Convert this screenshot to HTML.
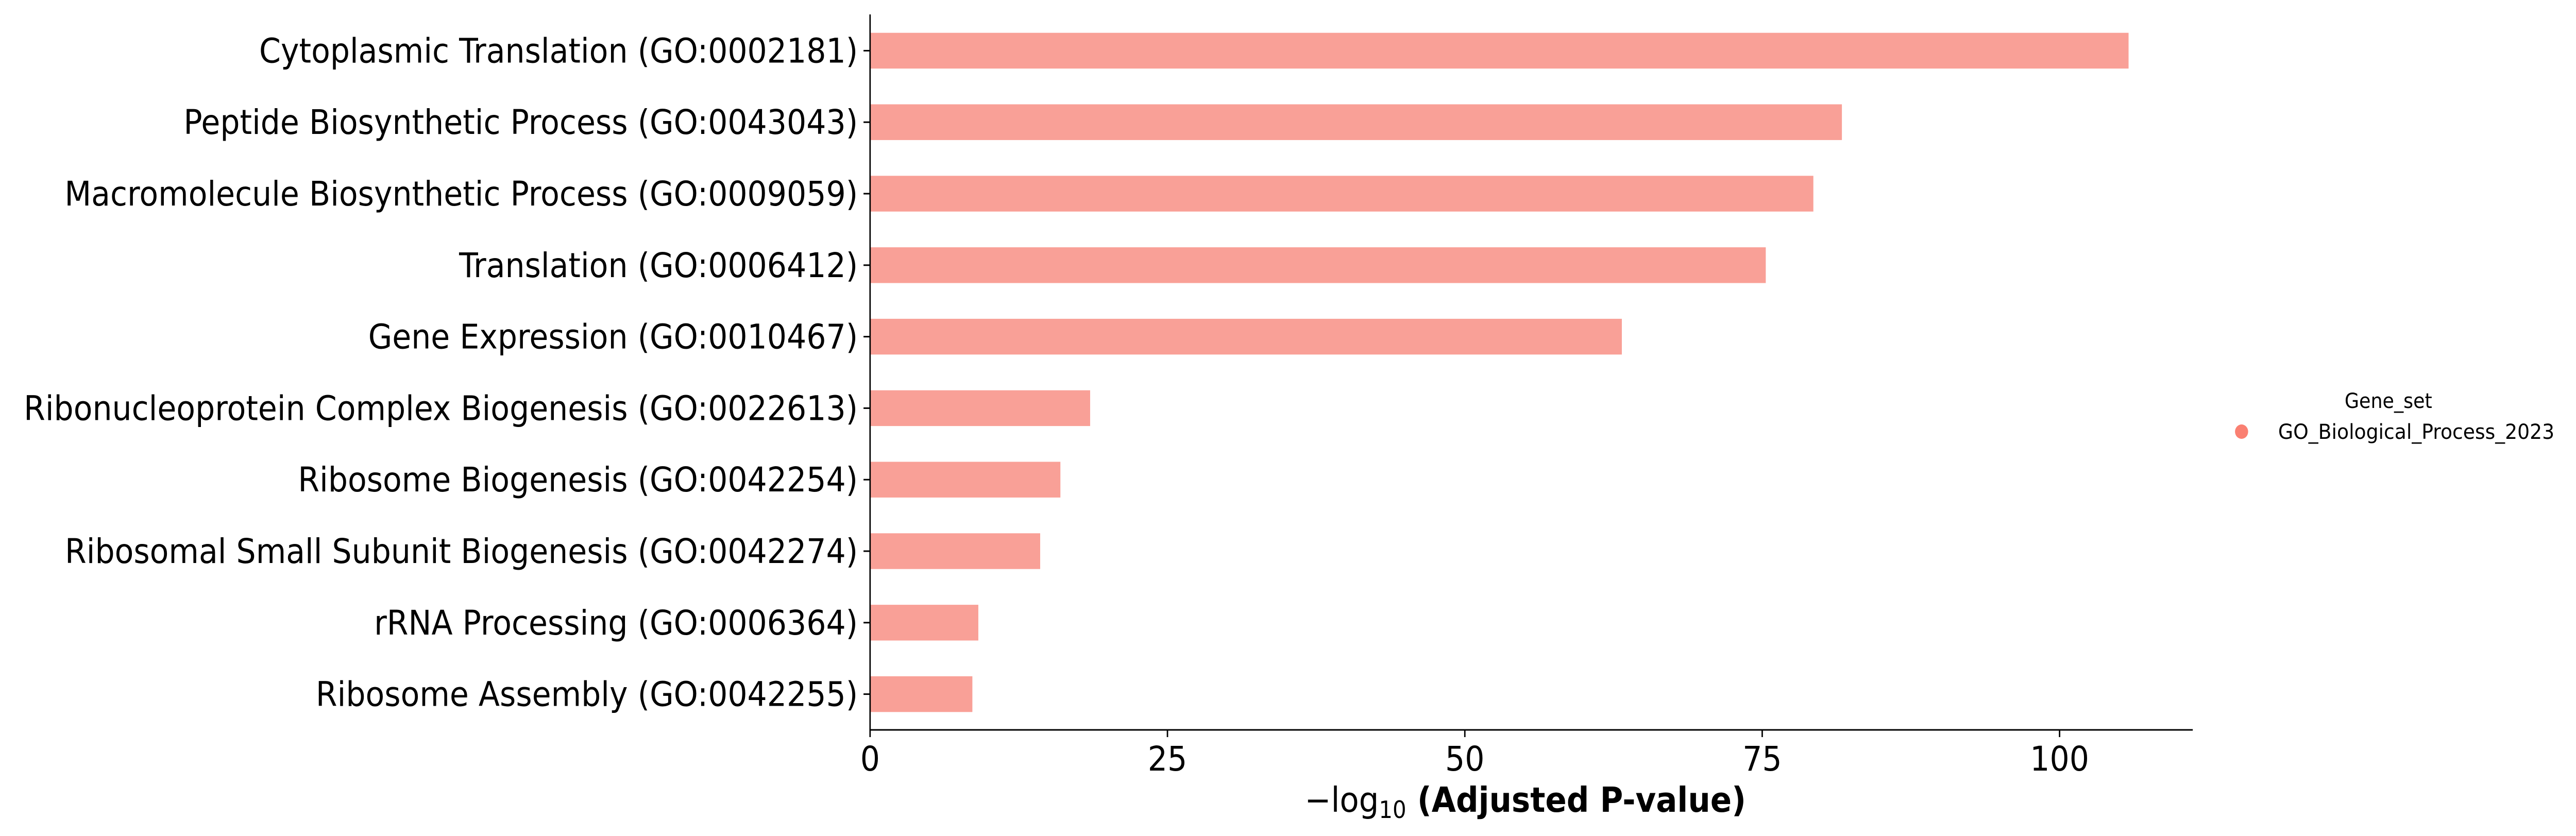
<!DOCTYPE html>
<html><head><meta charset="utf-8"><style>
html,body{margin:0;padding:0;background:#fff;width:100%;height:100%;overflow:hidden;}
svg{display:block;position:absolute;left:0;top:0;width:100vw;height:100vh;font-family:"DejaVu Sans","Liberation Sans",sans-serif;}
</style></head><body>
<svg id="chart" viewBox="0 0 5492 1623" preserveAspectRatio="none" xmlns="http://www.w3.org/2000/svg">
<g id="bars"></g>
<g id="yaxis"></g>
<g id="xaxis"></g>
<text x="3252" y="1576" text-anchor="middle" font-size="67"><tspan>−log</tspan><tspan font-size="46" dy="12">10</tspan><tspan dy="-12" font-weight="bold"> (Adjusted P-value)</tspan></text>
<g>
<text x="5092" y="792" text-anchor="middle" font-size="40">Gene_set</text>
<circle cx="4779" cy="838" r="14" fill="#fa8072"/>
<text x="4857" y="852" font-size="40" textLength="589" lengthAdjust="spacingAndGlyphs">GO_Biological_Process_2023</text>
</g>
</svg>
<script>
const categories = ["Cytoplasmic Translation (GO:0002181)","Peptide Biosynthetic Process (GO:0043043)","Macromolecule Biosynthetic Process (GO:0009059)","Translation (GO:0006412)","Gene Expression (GO:0010467)","Ribonucleoprotein Complex Biogenesis (GO:0022613)","Ribosome Biogenesis (GO:0042254)","Ribosomal Small Subunit Biogenesis (GO:0042274)","rRNA Processing (GO:0006364)","Ribosome Assembly (GO:0042255)"];
const values = [105.8, 81.7, 79.3, 75.3, 63.2, 18.5, 16.0, 14.3, 9.1, 8.6];
const xTicks = [0, 25, 50, 75, 100];
const xMin = 0;

const NS = "http://www.w3.org/2000/svg";
const X0 = 1855, X1 = 4675, YT = 29, YB = 1417;
const pxPerUnit = 25.36;
function xScale(v){ return X0 + (v - xMin) * pxPerUnit; }
const band = (YB - YT) / categories.length;
function yScale(i){ return YT + band * (i + 0.5); }
function mk(tag, attrs, parent){ const e = document.createElementNS(NS, tag); for (const k in attrs) e.setAttribute(k, attrs[k]); parent.appendChild(e); return e; }

const gb = document.getElementById('bars');
const gy = document.getElementById('yaxis');
const gx = document.getElementById('xaxis');

categories.forEach((c, i) => {
  const y = yScale(i);
  const r = mk('rect', {x: xScale(0), y: y - band * 0.25, width: xScale(values[i]) - xScale(0), height: band * 0.5, fill: '#f9a097'}, gb);
  
  
  const t = mk('line', {x1: X0 - 14, x2: X0, y1: y, y2: y, stroke: '#000', 'stroke-width': 3}, gy);
  
  
  const l = mk('text', {x: X0 - 26, y: y + 23, 'text-anchor': 'end', 'font-size': 66}, gy);
  l.textContent = c;
  
  
});

const la = mk('line', {x1: X0, x2: X0, y1: YT - 1, y2: YB, stroke: '#000', 'stroke-width': 3}, gy);


const lb = mk('line', {x1: X0 - 1.5, x2: X1, y1: YB, y2: YB, stroke: '#000', 'stroke-width': 3}, gx);



xTicks.forEach(v => {
  const x = xScale(v);
  const t = mk('line', {x1: x, x2: x, y1: YB, y2: YB + 14, stroke: '#000', 'stroke-width': 3}, gx);
  
  
  const l = mk('text', {x: x, y: YB + 79, 'text-anchor': 'middle', 'font-size': 66}, gx);
  l.textContent = v;
  
  
});
</script>
</body></html>
